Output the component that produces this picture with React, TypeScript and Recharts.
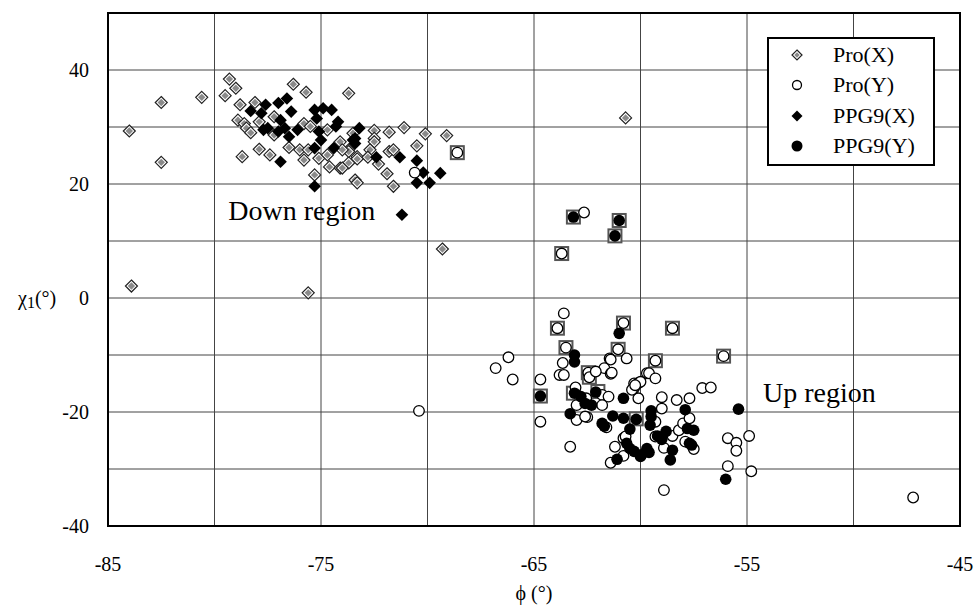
import React from "react";
import {
  ScatterChart,
  Scatter,
  XAxis,
  YAxis,
  CartesianGrid,
  ReferenceArea,
  ReferenceDot,
  Legend,
} from "recharts";

const FONT = '"Liberation Serif", "Times New Roman", serif';

type Pt = [number, number];

// axis ticks (grid every 5 / 10, labels every other)
const xTicks = [-85, -80, -75, -70, -65, -60, -55, -50, -45];
const xLabelled = [-85, -75, -65, -55, -45];
const yTicks = [-40, -30, -20, -10, 0, 10, 20, 30, 40, 50];
const yLabelled = [-40, -20, 0, 20, 40];

// [phi, chi1]
const proX: Pt[] = [
  [-84.0, 29.3], [-82.5, 34.3], [-82.5, 23.8], [-80.6, 35.2], [-79.3, 38.4], [-79.0, 36.8],
  [-79.5, 35.5], [-76.3, 37.5], [-75.7, 36.1], [-73.7, 35.9], [-78.8, 33.9], [-78.1, 34.3],
  [-78.9, 31.2], [-78.6, 30.6], [-78.5, 29.8], [-78.3, 29.0], [-77.9, 26.1], [-77.4, 25.1],
  [-78.7, 24.8], [-77.9, 30.9], [-77.2, 28.6], [-77.2, 31.8], [-76.5, 26.4], [-76.0, 26.0],
  [-75.6, 26.0], [-75.8, 24.2], [-75.8, 30.6], [-75.5, 30.1], [-75.1, 24.5], [-75.3, 21.6],
  [-74.7, 25.1], [-74.6, 23.0], [-74.1, 22.8], [-74.7, 29.5], [-74.1, 27.4], [-73.7, 26.0],
  [-73.3, 24.8], [-71.1, 29.9], [-70.1, 28.8], [-69.1, 28.5], [-71.8, 29.1], [-72.5, 29.4],
  [-72.5, 28.0], [-72.5, 27.4], [-73.5, 28.9], [-70.5, 26.7], [-71.8, 25.7], [-71.6, 26.0],
  [-71.9, 21.8], [-71.6, 19.6], [-73.4, 20.7], [-73.3, 20.2], [-72.3, 23.5], [-72.7, 26.0],
  [-72.8, 24.7], [-73.3, 24.4], [-73.7, 23.7], [-73.7, 25.7], [-74.0, 26.0], [-74.0, 22.8],
  [-83.9, 2.1], [-75.6, 0.9], [-69.3, 8.6], [-60.7, 31.6],
];

const ppg9X: Pt[] = [
  [-76.9, 23.9], [-75.3, 19.6], [-78.3, 32.8], [-77.6, 33.9], [-77.8, 32.4], [-77.0, 34.2],
  [-76.6, 35.0], [-77.5, 29.8], [-77.7, 29.5], [-76.9, 31.2], [-76.4, 32.7], [-76.7, 29.8],
  [-77.0, 29.2], [-76.5, 28.3], [-76.1, 29.5], [-75.3, 33.0], [-74.9, 33.3], [-74.5, 33.0],
  [-75.2, 31.5], [-75.1, 29.2], [-75.0, 27.7], [-74.2, 30.9], [-74.3, 30.1], [-75.3, 26.3],
  [-74.4, 26.3], [-73.5, 27.7], [-73.2, 29.8], [-73.4, 28.0], [-73.4, 27.1], [-72.4, 24.7],
  [-71.3, 24.7], [-70.5, 24.1], [-70.2, 22.0], [-69.4, 21.9], [-70.5, 20.2], [-69.9, 20.2],
  [-71.2, 14.6],
];

const proY: Pt[] = [
  [-68.6, 25.5], [-70.6, 22.0], [-62.65, 15.0], [-63.7, 7.8], [-63.6, -2.7], [-63.9, -5.3],
  [-60.8, -4.4], [-58.5, -5.3], [-63.5, -8.7], [-61.05, -9.0], [-66.2, -10.4], [-66.8, -12.3],
  [-66.0, -14.3], [-64.7, -14.3], [-63.65, -11.4], [-63.8, -13.5], [-63.6, -13.5], [-62.45, -13.1],
  [-62.4, -13.9], [-61.7, -12.3], [-61.4, -13.3], [-61.45, -10.6], [-60.65, -10.6], [-61.8, -17.0],
  [-59.7, -13.2], [-59.3, -11.0], [-56.1, -10.2], [-61.4, -10.8], [-61.35, -13.1], [-59.6, -13.2],
  [-59.3, -14.1], [-60.3, -15.0], [-60.1, -14.9], [-60.0, -14.7], [-60.3, -15.8], [-57.1, -15.8],
  [-56.7, -15.7], [-59.0, -17.4], [-58.3, -17.9], [-57.7, -17.6], [-59.0, -19.4], [-60.1, -17.6],
  [-64.7, -21.7], [-63.3, -26.1], [-63.0, -21.4], [-62.5, -20.9], [-61.6, -22.7], [-60.8, -24.6],
  [-61.2, -26.1], [-60.8, -27.7], [-61.4, -28.9], [-58.9, -26.3], [-58.9, -33.7], [-58.5, -24.2],
  [-57.9, -25.2], [-57.5, -26.5], [-55.9, -24.6], [-55.5, -25.4], [-55.5, -26.8], [-54.9, -24.2],
  [-55.9, -29.5], [-54.8, -30.4], [-47.2, -35.0], [-70.4, -19.8], [-63.05, -15.7], [-62.55, -17.6],
  [-61.5, -17.3], [-61.8, -18.8], [-63.0, -18.8], [-62.6, -20.8], [-60.4, -16.1], [-60.25, -15.3],
  [-59.3, -21.7], [-60.7, -24.3], [-59.3, -24.3], [-58.2, -23.2], [-58.0, -22.0], [-57.7, -21.1],
  [-62.1, -12.9],
];

const ppg9Y: Pt[] = [
  [-63.15, 14.2], [-61.0, 13.6], [-61.2, 10.9], [-61.0, -6.2], [-63.1, -10.0], [-63.1, -11.2],
  [-64.7, -17.2], [-63.1, -16.7], [-62.8, -17.3], [-62.6, -18.5], [-62.3, -18.8], [-62.1, -16.5],
  [-60.8, -17.6], [-63.3, -20.3], [-61.8, -22.0], [-61.7, -22.5], [-61.3, -20.7], [-60.8, -21.1],
  [-60.5, -23.0], [-60.2, -21.3], [-59.5, -19.8], [-59.5, -20.8], [-59.55, -22.3], [-60.65, -25.5],
  [-60.5, -26.4], [-60.3, -26.9], [-59.7, -26.4], [-59.6, -27.1], [-60.0, -27.8], [-61.1, -28.3],
  [-59.2, -24.2], [-59.0, -24.8], [-58.8, -23.4], [-58.5, -26.7], [-58.6, -28.4], [-57.9, -19.6],
  [-57.8, -22.9], [-57.5, -23.2], [-57.7, -25.5], [-57.6, -25.8], [-55.4, -19.5], [-56.0, -31.8],
  [-59.95, -27.5],
];

// points marked with a square in the original figure
const boxed: Pt[] = [
  [-68.6, 25.5], [-63.15, 14.2], [-61.0, 13.6], [-61.2, 10.9], [-63.7, 7.8], [-63.9, -5.3],
  [-60.8, -4.4], [-58.5, -5.3], [-63.5, -8.7], [-61.05, -9.0], [-62.45, -13.1], [-62.4, -13.9],
  [-64.7, -17.2], [-63.15, -16.7], [-62.0, -16.4], [-59.3, -11.0], [-56.1, -10.2], [-60.2, -21.2],
];

const toRows = (pts: Pt[]) => pts.map(([phi, chi]) => ({ phi, chi }));

const diamondPts = (cx: number, cy: number, s: number) =>
  `${cx},${cy - s} ${cx + s},${cy} ${cx},${cy + s} ${cx - s},${cy}`;

const GrayDiamond = ({ cx, cy, s = 6 }: any) => (
  <g>
    <polygon points={diamondPts(cx, cy, s)} fill="#fff" stroke="#222" strokeWidth={1.2} />
    <polygon points={diamondPts(cx, cy, s - 2.3)} fill="#8a8a8a" />
  </g>
);
const BlackDiamond = ({ cx, cy, s = 6.3 }: any) => (
  <polygon points={diamondPts(cx, cy, s)} fill="#000" />
);
const OpenCircle = ({ cx, cy, r = 5.3 }: any) => (
  <circle cx={cx} cy={cy} r={r} fill="#fff" stroke="#000" strokeWidth={1.3} />
);
const BlackCircle = ({ cx, cy, r = 5.8 }: any) => <circle cx={cx} cy={cy} r={r} fill="#000" />;
const BoxMark = ({ cx, cy }: any) => (
  <rect x={cx - 6.5} y={cy - 6.5} width={13} height={13} fill="#fff" stroke="#555" strokeWidth={2} />
);

const series = [
  { name: "Pro(X)", data: proX, Shape: GrayDiamond, small: { s: 5 } },
  { name: "Pro(Y)", data: proY, Shape: OpenCircle, small: { r: 4.5 } },
  { name: "PPG9(X)", data: ppg9X, Shape: BlackDiamond, small: { s: 5.5 } },
  { name: "PPG9(Y)", data: ppg9Y, Shape: BlackCircle, small: { r: 5.5 } },
];
const drawOrder = ["Pro(X)", "PPG9(X)", "Pro(Y)", "PPG9(Y)"];

const LegendBox = () => (
  <div
    style={{
      width: 168,
      height: 129,
      boxSizing: "border-box",
      border: "2px solid #000",
      background: "#fff",
      position: "relative",
      fontFamily: FONT,
      fontSize: 22,
      color: "#000",
    }}
  >
    {series.map((s, i) => (
      <div
        key={s.name}
        style={{ position: "absolute", left: 0, top: 2 + i * 30.3, height: 28, display: "flex", alignItems: "center" }}
      >
        <svg width={60} height={28} style={{ display: "block" }}>
          <s.Shape cx={28} cy={14} {...s.small} />
        </svg>
        <span style={{ marginLeft: 4, lineHeight: "28px", whiteSpace: "nowrap" }}>{s.name}</span>
      </div>
    ))}
  </div>
);

const XTick = (p: any) => {
  const v = p.payload?.value;
  if (!xLabelled.includes(v)) return <g />;
  return (
    <text x={p.x} y={p.y} dy="0.71em" textAnchor="middle" fontFamily={FONT} fontSize={20} fill="#000">
      {v}
    </text>
  );
};

const YTick = (p: any) => {
  const v = p.payload?.value;
  if (!yLabelled.includes(v)) return <g />;
  return (
    <text x={p.x} y={p.y} dy="0.35em" textAnchor="end" fontFamily={FONT} fontSize={20} fill="#000">
      {v}
    </text>
  );
};

const PhiLabel = (props: any) => {
  const vb = props.viewBox || { x: 108, y: 526, width: 852, height: 79 };
  return (
    <text x={vb.x + vb.width / 2} y={vb.y + 74} textAnchor="middle" fontFamily={FONT} fontSize={20} fill="#000">
      ϕ (°)
    </text>
  );
};

const ChiLabel = (props: any) => {
  const vb = props.viewBox || { x: 0, y: 13, width: 108, height: 513 };
  const y = vb.y + (vb.height * 50) / 90 + 7;
  return (
    <text x={vb.x + 18} y={y} fontFamily={FONT} fontSize={20} fill="#000">
      χ
      <tspan fontSize={16} dy={3}>1</tspan>
      <tspan dy={-3}>(°)</tspan>
    </text>
  );
};

export default function App() {
  return (
    <div
      style={{ position: "absolute", left: 0, top: 0, width: 976, height: 605, background: "#fff", fontFamily: FONT }}
    >
      <ScatterChart width={976} height={605} margin={{ top: 13, right: 16, bottom: 0, left: 0 }}>
        <CartesianGrid stroke="#444" strokeWidth={1} />
        <XAxis
          type="number"
          dataKey="phi"
          domain={[-85, -45]}
          ticks={xTicks}
          interval={0}
          height={79}
          tickLine={false}
          axisLine={false}
          tickSize={0}
          tickMargin={31}
          tick={XTick}
          label={{ content: PhiLabel }}
          allowDataOverflow
        />
        <YAxis
          type="number"
          dataKey="chi"
          domain={[-40, 50]}
          ticks={yTicks}
          interval={0}
          width={108}
          tickLine={false}
          axisLine={false}
          tickSize={0}
          tickMargin={19}
          tick={YTick}
          label={{ content: ChiLabel }}
          allowDataOverflow
        />
        <ReferenceArea x1={-85} x2={-45} y1={-40} y2={50} fill="none" stroke="#000" strokeWidth={2} fillOpacity={0} />
        <Scatter
          name="marked"
          data={toRows(boxed)}
          shape={(p: any) => <BoxMark cx={p.cx} cy={p.cy} />}
          legendType="none"
          isAnimationActive={false}
        />
        {drawOrder.map((n) => {
          const s = series.find((q) => q.name === n)!;
          return (
            <Scatter
              key={n}
              name={n}
              data={toRows(s.data)}
              shape={(p: any) => <s.Shape cx={p.cx} cy={p.cy} />}
              isAnimationActive={false}
            />
          );
        })}
        <ReferenceDot
          x={-75.9}
          y={15.4}
          r={1}
          fill="none"
          stroke="none"
          label={{ value: "Down region", position: "center", fill: "#000", fontSize: 28, fontFamily: FONT }}
        />
        <ReferenceDot
          x={-51.6}
          y={-16.5}
          r={1}
          fill="none"
          stroke="none"
          label={{ value: "Up region", position: "center", fill: "#000", fontSize: 28, fontFamily: FONT }}
        />
        <Legend
          layout="vertical"
          verticalAlign="middle"
          align="center"
          content={() => <LegendBox />}
          wrapperStyle={{ left: 767, top: 37, width: 168, height: 129 }}
        />
      </ScatterChart>
    </div>
  );
}
